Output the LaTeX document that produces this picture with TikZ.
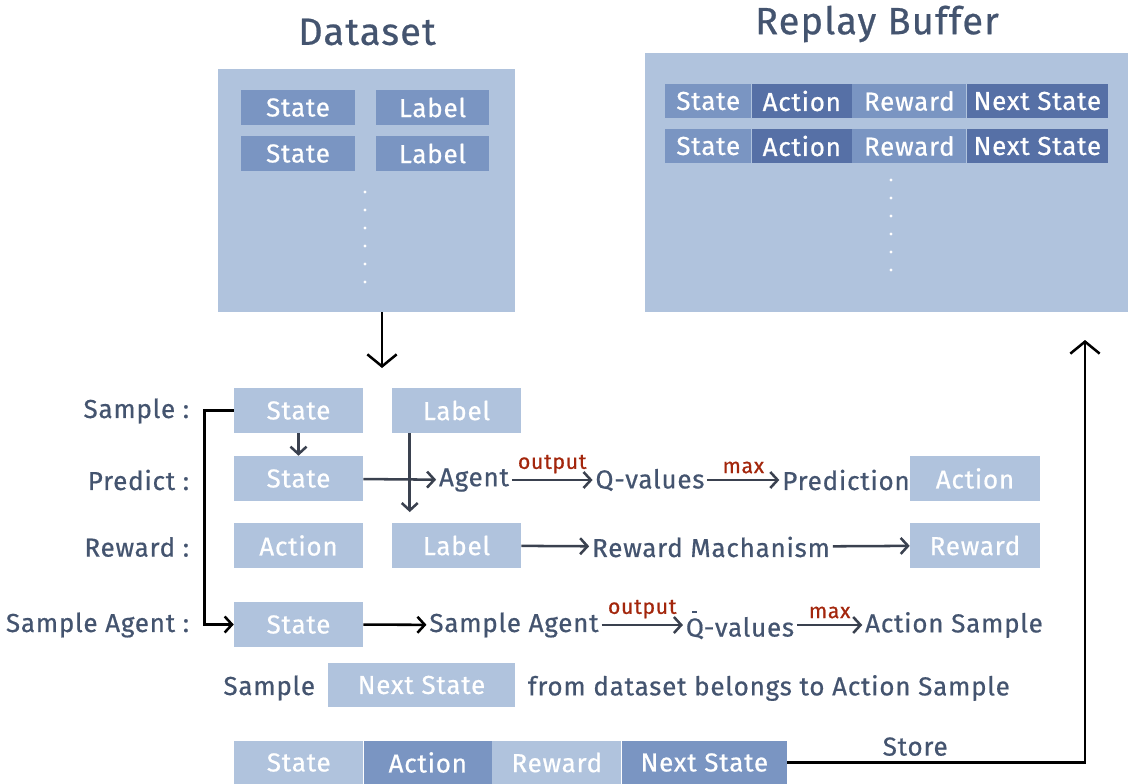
\documentclass[tikz,border=0pt]{standalone}
\usepackage{fontspec}
\setmainfont{Fira Sans}[LetterSpace=3,FakeBold=0.6]
\usetikzlibrary{arrows.meta,positioning}

\definecolor{pale}{HTML}{B0C3DD}
\definecolor{mid}{HTML}{7A95C2}
\definecolor{deep}{HTML}{5670A6}
\definecolor{ink}{HTML}{44546F}
\definecolor{wire}{HTML}{3A414F}
\definecolor{note}{HTML}{A3260C}

% Q with a short bar over it
\newcommand\qbar{\leavevmode\setbox0\hbox{Q}%
    \rlap{\hbox to \wd0{\hss\rule[0.92em]{0.2em}{0.07em}\hss}}\box0}

\tikzset{
    x=0.75pt, y=-0.75pt,
    sz/.style 2 args={minimum width=#1*0.75pt, minimum height=#2*0.75pt},
    cell/.style={fill=#1, text=white, inner sep=0pt, font=\fontsize{19.5}{21}\selectfont},
    panel/.style={fill=pale, inner sep=0pt},
    title/.style={text=ink, font=\fontsize{28.5}{30}\selectfont},
    word/.style={text=ink, inner sep=2pt, font=\fontsize{19.5}{21}\selectfont},
    hint/.style={text=note, inner sep=1pt, font=\fontsize{16}{18}\selectfont},
    flow/.style={draw=wire, line width=1.9pt, -{Straight Barb[length=5.5pt,width=12pt]}},
    link/.style={draw=black, line width=1.9pt, -{Straight Barb[length=5.5pt,width=12pt]}},
    bigflow/.style={draw=black, line width=1.9pt, -{Straight Barb[length=9pt,width=22pt]}},
    dot/.style={fill=white}
}

\begin{document}
\begin{tikzpicture}
    \useasboundingbox (0,0) rectangle (1128,784);

    % dataset
    \node[title] (dstitle) at (367,32) {Dataset};
    \node[panel, sz={297}{243}] (dataset) at (366.5,190.5) {};
    \node[cell=mid, sz={114}{35}] (ds-s1) at (298,107.5) {State};
    \node[cell=mid, sz={113}{35}] (ds-l1) at (432.5,107.5) {Label};
    \node[cell=mid, sz={114}{35}] (ds-s2) at (298,153.5) {State};
    \node[cell=mid, sz={113}{35}] (ds-l2) at (432.5,153.5) {Label};
    \foreach \y in {192,210,...,282}
        \fill[dot] (365,\y) circle (1.3pt);

    % replay buffer
    \node[title] (rbtitle) at (877,24) {Replay Buffer};
    \node[panel, sz={483}{259}] (buffer) at (886.5,182.5) {};
    \foreach \r/\y in {1/101,2/146} {
        \node[cell=mid, sz={86}{34}, anchor=west] (rb-s\r) at (665,\y) {State};
        \node[cell=deep, sz={100}{34}, right=0pt of rb-s\r] (rb-a\r) {Action};
        \node[cell=mid, sz={114}{34}, right=0pt of rb-a\r] (rb-r\r) {Reward};
        \node[cell=deep, sz={141}{34}, right=0pt of rb-r\r] (rb-n\r) {Next State};
    }
    \foreach \y in {180,198,...,270}
        \fill[dot] (891,\y) circle (1.3pt);

    % steps
    \node[word, anchor=east] (l-sample) at (192,411) {Sample :};
    \node[word, anchor=east] (l-predict) at (192,480) {Predict :};
    \node[word, anchor=east] (l-reward) at (192,547) {Reward :};
    \node[word, anchor=east] (l-agent) at (192,625) {Sample Agent :};

    \node[cell=pale, sz={129}{45}] (s-state) at (298.5,410.5) {State};
    \node[cell=pale, sz={129}{45}] (s-label) at (456.5,410.5) {Label};
    \node[cell=pale, sz={129}{45}] (p-state) at (298.5,478.5) {State};
    \node[cell=pale, sz={129}{45}] (r-action) at (298.5,545.5) {Action};
    \node[cell=pale, sz={129}{45}] (r-label) at (456.5,545.5) {Label};
    \node[cell=pale, sz={129}{45}] (a-state) at (298.5,624.5) {State};
    \node[cell=pale, sz={130}{45}] (p-action) at (975,478.5) {Action};
    \node[cell=pale, sz={130}{45}] (r-reward) at (975,545.5) {Reward};

    \node[word] (agent) at (474,480) {Agent};
    \node[word] (qv) at (650,480) {Q-values};
    \node[word] (pred) at (846,480) {Prediction};
    \node[word] (mech) at (711,547) {Reward Machanism};
    \node[word] (sagent) at (514,625) {Sample Agent};
    \node[word] (qbar) at (740,625) {\qbar-values};
    \node[word] (asample) at (954,625) {Action Sample};

    \draw[flow] (s-state) -- (p-state);
    \draw[flow, shorten >=8pt] ([xshift=13.5pt]s-label.south west) -- ([xshift=13.5pt]r-label.north west);
    \draw[flow] (p-state) -- (agent);
    \draw[flow] (agent) -- node[hint, above=3pt] {output} (qv);
    \draw[flow] (qv) -- node[hint, above=3pt] {max} (pred);
    \draw[flow] (r-label) -- (mech);
    \draw[flow] (mech) -- (r-reward);
    \draw[link] (s-state.west) -- ++(-29,0) |- (a-state.west);
    \draw[link] (a-state) -- (sagent);
    \draw[flow] (sagent) -- node[hint, above=3pt] {output} (qbar);
    \draw[flow] (qbar) -- node[hint, above=3pt] {max} (asample);

    % next state lookup
    \node[word, anchor=east] (l-next) at (318,688) {Sample};
    \node[cell=pale, sz={187}{44}] (n-state) at (421.5,685) {Next State};
    \node[word, anchor=west] (l-from) at (525,688) {from dataset belongs to Action Sample};

    % stored tuple
    \node[cell=pale, sz={129}{43}, anchor=west] (t-state) at (234,762.5) {State};
    \node[cell=mid, sz={128}{43}, right=0pt of t-state] (t-action) {Action};
    \node[cell=pale, sz={129}{43}, right=0pt of t-action] (t-reward) {Reward};
    \node[cell=mid, sz={165}{43}, right=0pt of t-reward] (t-next) {Next State};

    \coordinate (pick) at (382,368);
    \coordinate (rb-in) at (1085,340);
    \draw[bigflow] (dataset.south -| pick) -- (pick);
    \draw[bigflow] (t-next.east) -- node[word, above=2pt, pos=0.43] {Store} (t-next.east -| rb-in) -- (rb-in);
\end{tikzpicture}
\end{document}
